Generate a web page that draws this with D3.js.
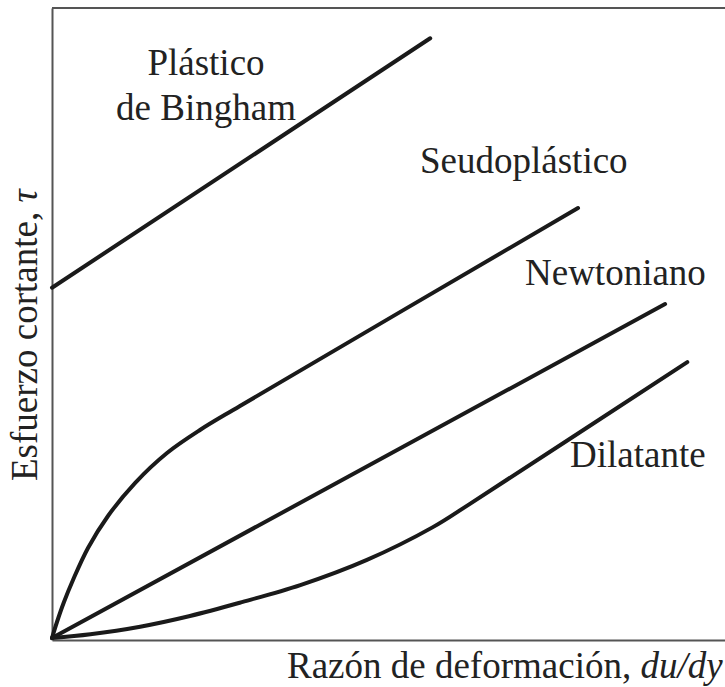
<!DOCTYPE html>
<html>
<head>
<meta charset="utf-8">
<script src="https://cdn.jsdelivr.net/npm/d3@7"></script>
<style>
  body { margin: 0; background: #fff; }
  text { font-family: "Liberation Serif", "Times New Roman", serif; fill: #222; }
</style>
</head>
<body>
<div id="chart"></div>
<script>
// curvas de esfuerzo cortante vs razón de deformación (unidades arbitrarias 0-10)
let binghamX = [0, 5.62];
let binghamY = [5.56, 9.52];
let seudoX = [0, 0.074, 0.178, 0.312, 0.535, 0.832, 1.233, 1.709, 2.199, 2.793, 7.816];
let seudoY = [0, 0.254, 0.571, 0.921, 1.429, 1.937, 2.460, 2.937, 3.302, 3.683, 6.825];
let newtonX = [0, 9.11];
let newtonY = [0, 5.30];
let dilatX = [0, 0.57, 1.31, 2.05, 2.79, 3.69, 4.68, 5.66, 6.21, 9.44];
let dilatY = [0, 0.06, 0.18, 0.35, 0.56, 0.84, 1.24, 1.76, 2.13, 4.38];
let etiquetas = ['Plástico', 'de Bingham', 'Seudoplástico', 'Newtoniano', 'Dilatante'];
let tituloX = 'Razón de deformación, ';
let tituloXItal = 'du/dy';
let tituloY = 'Esfuerzo cortante, ';
let tituloYItal = 'τ';

let width = 725;
let height = 687;

let x = d3.scaleLinear().domain([0, 10]).range([52, 725]);
let y = d3.scaleLinear().domain([0, 10]).range([638, 8]);

let svg = d3.select('#chart').append('svg')
    .attr('width', width)
    .attr('height', height);

// marco: ejes sin marcas
svg.append('g')
    .attr('transform', 'translate(0,640)')
    .call(d3.axisBottom(x).tickValues([]).tickSizeOuter(0));
svg.append('g')
    .attr('transform', 'translate(52,0)')
    .call(d3.axisLeft(y.copy().range([640, 8])).tickValues([]).tickSizeOuter(0));
svg.append('line')
    .attr('x1', x(0)).attr('x2', x(10))
    .attr('y1', y(10)).attr('y2', y(10))
    .attr('stroke', '#555').attr('stroke-width', 2);
svg.selectAll('.domain').attr('stroke', '#555').attr('stroke-width', 2);

// generador de líneas
let lineGenerator = d3.line()
    .x(function(d) { return x(d[0]); })
    .y(function(d) { return y(d[1]); })
    .curve(d3.curveCatmullRom.alpha(0.5));

function zip(xs, ys) {
    return xs.map(function(v, i) { return [v, ys[i]]; });
}

let curvas = [
    zip(binghamX, binghamY),
    zip(seudoX, seudoY),
    zip(newtonX, newtonY),
    zip(dilatX, dilatY)
];

svg.selectAll('path.curva')
    .data(curvas)
    .enter().append('path')
    .attr('class', 'curva')
    .attr('d', lineGenerator)
    .attr('fill', 'none')
    .attr('stroke', '#1a1a1a')
    .attr('stroke-width', 4)
    .attr('stroke-linecap', 'round')
    .attr('stroke-linejoin', 'round');

// etiquetas de las curvas
let posEtiquetas = [
    [206, 75, 'middle'],
    [206, 120, 'middle'],
    [420, 173, 'start'],
    [525, 285, 'start'],
    [570, 467, 'start']
];
svg.selectAll('text.etq')
    .data(etiquetas)
    .enter().append('text')
    .attr('class', 'etq')
    .attr('x', function(d, i) { return posEtiquetas[i][0]; })
    .attr('y', function(d, i) { return posEtiquetas[i][1]; })
    .attr('text-anchor', function(d, i) { return posEtiquetas[i][2]; })
    .attr('font-size', 37)
    .text(function(d) { return d; });

// títulos de los ejes (el original queda cortado en el borde derecho)
let tx = svg.append('text')
    .attr('x', 287)
    .attr('y', 678)
    .attr('font-size', 37);
tx.append('tspan').text(tituloX);
tx.append('tspan').attr('font-style', 'italic').text(tituloXItal);

let ty = svg.append('text')
    .attr('transform', 'translate(37,481) rotate(-90)')
    .attr('font-size', 37);
ty.append('tspan').text(tituloY);
ty.append('tspan').attr('font-style', 'italic').text(tituloYItal);
</script>
</body>
</html>
